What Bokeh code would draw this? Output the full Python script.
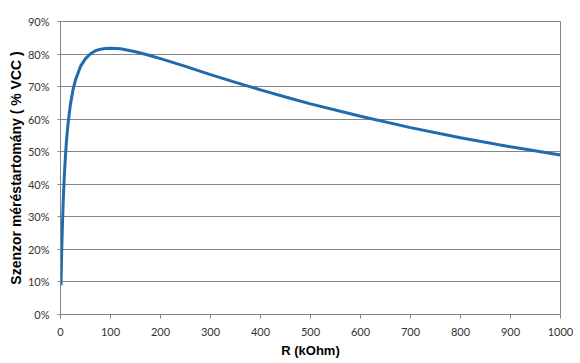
from bokeh.plotting import figure
from bokeh.models import FixedTicker, PrintfTickFormatter, Range1d
from bokeh.embed import file_html
from bokeh.resources import INLINE

# Data (R in kOhm, range in % of VCC)
r_kohm = [1, 1.5, 2, 3, 4, 5, 6, 7, 8, 10, 12, 15, 20, 25, 30, 40, 50, 60, 70,
          80, 90, 100, 120, 150, 175, 200, 250, 300, 350, 400, 450, 500, 600,
          700, 800, 900, 1000]
range_pct = [9.0, 12.9, 16.5, 22.8, 28.2, 32.8, 36.9, 40.5, 43.7, 49.0, 53.4,
             58.5, 64.7, 69.0, 72.1, 76.2, 78.6, 80.1, 81.0, 81.5, 81.7, 81.8,
             81.6, 80.7, 79.7, 78.6, 76.2, 73.7, 71.3, 69.0, 66.8, 64.7, 60.9,
             57.4, 54.3, 51.5, 49.0]
x_ticks = [0, 100, 200, 300, 400, 500, 600, 700, 800, 900, 1000]
y_ticks = [0, 10, 20, 30, 40, 50, 60, 70, 80, 90]

GRAY = "#868686"

p = figure(width=580, height=363, output_backend="svg", toolbar_location=None,
           x_range=Range1d(0, 1000), y_range=Range1d(0, 90),
           min_border_left=60, min_border_right=20, min_border_top=21,
           min_border_bottom=49)

p.line(r_kohm, range_pct, line_color="#1F6BAE", line_width=3)

p.xgrid.visible = False
p.ygrid.ticker = FixedTicker(ticks=y_ticks)
p.ygrid.grid_line_color = GRAY
p.ygrid.grid_line_width = 1

p.outline_line_color = GRAY
p.outline_line_width = 1

p.xaxis.ticker = FixedTicker(ticks=x_ticks)
p.yaxis.ticker = FixedTicker(ticks=y_ticks)
p.yaxis.formatter = PrintfTickFormatter(format="%d%%")

for ax in (p.xaxis[0], p.yaxis[0]):
    ax.axis_line_color = GRAY
    ax.major_tick_line_color = GRAY
    ax.minor_tick_line_color = None
    ax.major_tick_in = 0
    ax.major_label_text_font = "Lato"
    ax.major_label_text_font_size = "11px"
    ax.major_label_text_color = "#333333"
    ax.axis_label_text_font = "Liberation Sans"
    ax.axis_label_text_font_style = "bold"
    ax.axis_label_text_color = "#000000"

p.xaxis.axis_label_text_font_size = "13px"
p.yaxis.axis_label_text_font_size = "14px"
p.xaxis.major_tick_out = 4
p.yaxis.major_tick_out = 3
p.xaxis.major_label_standoff = 9
p.yaxis.major_label_standoff = 8
p.xaxis.axis_label_standoff = 4
p.yaxis.axis_label_standoff = 1
p.xaxis.axis_label = "R (kOhm)"
p.yaxis.axis_label = "Szenzor méréstartomány ( % VCC )"

open("out.html", "w").write(file_html(p, INLINE))
